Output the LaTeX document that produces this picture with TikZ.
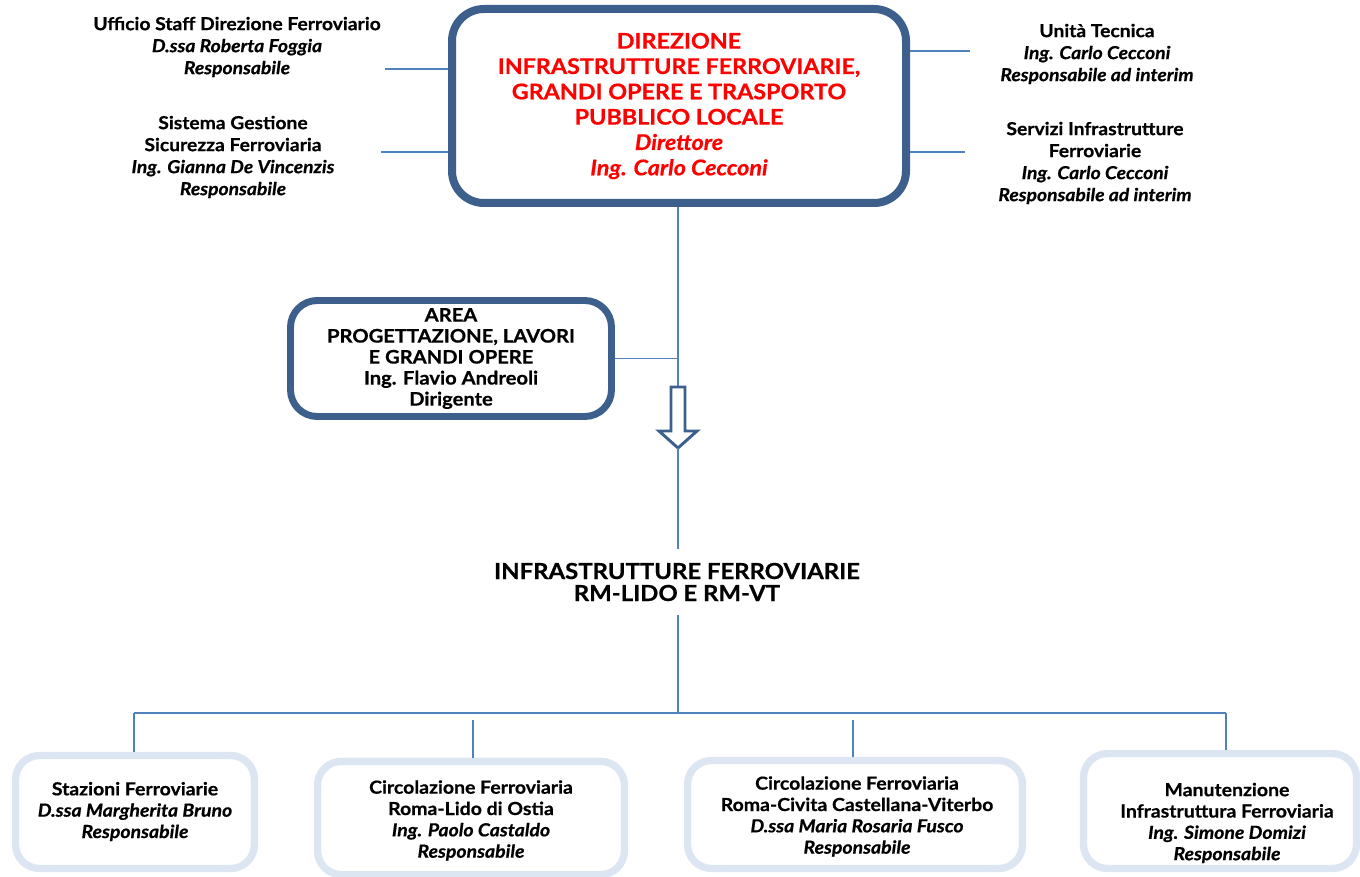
\documentclass[tikz,border=0pt]{standalone}
\usepackage{fontspec}
\setmainfont{Lato}[FakeStretch=1.08,BoldFeatures={FakeBold=0.6},BoldItalicFeatures={FakeBold=0.6}]
\definecolor{dkblue}{HTML}{3C5F8C}
\definecolor{lnblue}{HTML}{4F81BD}
\definecolor{ltblue}{HTML}{DCE6F2}
\definecolor{redtxt}{HTML}{FF0000}
\newcommand\fsmall{\fontsize{13.4}{16.5}\selectfont}
\newcommand\farea{\fontsize{14}{15.75}\selectfont}
\newcommand\fbot{\fontsize{13.5}{16}\selectfont}
\newcommand\fbig{\fontsize{16.2}{19}\selectfont}
\begin{document}
\begin{tikzpicture}[x=0.75pt,y=-0.75pt,
  conn/.style={draw=lnblue,line width=1.3pt},
  mainbox/.style={draw=dkblue,line width=6pt,rounded corners=24pt,fill=white,align=center,text=redtxt,font=\fbig\bfseries,inner sep=0pt},
  areabox/.style={draw=dkblue,line width=5.2pt,rounded corners=20pt,fill=white,align=center,font=\farea\bfseries,inner sep=0pt},
  botbox/.style={draw=ltblue,line width=5.5pt,rounded corners=18pt,fill=white,inner sep=0pt},
  lbl/.style={align=center,font=\fsmall\bfseries,inner sep=0pt},
  botlbl/.style={align=center,font=\fbot\bfseries,inner sep=0pt},
  bigtxt/.style={align=center,font=\fontsize{16.6}{16.5}\selectfont\bfseries,inner xsep=0pt,inner ysep=10pt},
  hollowarrow/.style={draw=dkblue,line width=2.2pt,fill=white,line join=miter}
]
\useasboundingbox (0,0) rectangle (1360,877);

\coordinate (uffL) at (385,69);
\coordinate (sgsL) at (381,152);
\coordinate (utR) at (970,51);
\coordinate (sifR) at (965,152);
\coordinate (arrtop) at (678,387);
\coordinate (arrtip) at (678,448);
\coordinate (busL) at (134,713);
\coordinate (busR) at (1226,713);
\coordinate (v2) at (473,720);
\coordinate (v3) at (853,720);

% main box
\node[mainbox,minimum width=340.5pt,minimum height=145.5pt] (main) at (679,106)
  {DIREZIONE\\INFRASTRUTTURE FERROVIARIE,\\GRANDI OPERE E TRASPORTO\\PUBBLICO LOCALE\\\textit{Direttore}\\\textit{Ing. Carlo Cecconi}};

% side labels
\node[lbl] (uff) at (237,47) {Ufficio Staff Direzione Ferroviario\\\textit{D.ssa Roberta Foggia}\\\textit{Responsabile}};
\node[lbl] (sgs) at (233,157) {Sistema Gestione\\Sicurezza Ferroviaria\\\textit{Ing. Gianna De Vincenzis}\\\textit{Responsabile}};
\node[lbl] (ut) at (1097,54) {Unità Tecnica\\\textit{Ing. Carlo Cecconi}\\\textit{Responsabile ad interim}};
\node[lbl] (sif) at (1095,163) {Servizi Infrastrutture\\Ferroviarie\\\textit{Ing. Carlo Cecconi}\\\textit{Responsabile ad interim}};

\draw[conn] (uffL) -- (uffL -| main.west);
\draw[conn] (sgsL) -- (sgsL -| main.west);
\draw[conn] (main.east |- utR) -- (utR);
\draw[conn] (main.east |- sifR) -- (sifR);

% area box
\node[areabox,minimum width=240.75pt,minimum height=87pt] (area) at (451,358.5)
  {AREA\\PROGETTAZIONE, LAVORI\\E GRANDI OPERE\\Ing. Flavio Andreoli\\Dirigente};

\draw[conn] (main.south -| arrtop) -- (arrtop);
\draw[conn] (area.east) -- (area.east -| arrtop);

% hollow arrow
\draw[hollowarrow] (671,387) -- (685,387) -- (685,431) -- (697,431) -- (arrtip) -- (659,431) -- (671,431) -- cycle;

% infrastrutture label
\node[bigtxt] (infra) at (677,582) {INFRASTRUTTURE FERROVIARIE\\RM-LIDO E RM-VT};
\draw[conn] (arrtip) -- (arrtip |- infra.north);
\draw[conn] (infra.south -| arrtip) -- (arrtip |- busL);
\draw[conn] (busL) -- (busR);

% bottom boxes
\node[botbox,minimum width=179.25pt,minimum height=84.75pt] (b1) at (135,812) {};
\node[botbox,minimum width=230.25pt,minimum height=85pt] (b2) at (471,818) {};
\node[botbox,minimum width=251.25pt,minimum height=81pt] (b3) at (855,814.5) {};
\node[botbox,minimum width=204.75pt,minimum height=86.25pt] (b4) at (1220,811) {};

\node[botlbl] (t1) at (135,811.5) {Stazioni Ferroviarie\\\textit{D.ssa Margherita Bruno}\\\textit{Responsabile}};
\node[botlbl] (t2) at (471,820.5) {Circolazione Ferroviaria\\Roma-Lido di Ostia\\\textit{Ing. Paolo Castaldo}\\\textit{Responsabile}};
\node[botlbl] (t3) at (857,816.5) {Circolazione Ferroviaria\\Roma-Civita Castellana-Viterbo\\\textit{D.ssa Maria Rosaria Fusco}\\\textit{Responsabile}};
\node[botlbl] (t4) at (1227,823) {Manutenzione\\Infrastruttura Ferroviaria\\\textit{Ing. Simone Domizi}\\\textit{Responsabile}};

\draw[conn] (busL) -- (busL |- b1.north);
\draw[conn] (v2) -- (v2 |- b2.north);
\draw[conn] (v3) -- (v3 |- b3.north);
\draw[conn] (busR) -- (busR |- b4.north);
\end{tikzpicture}
\end{document}
